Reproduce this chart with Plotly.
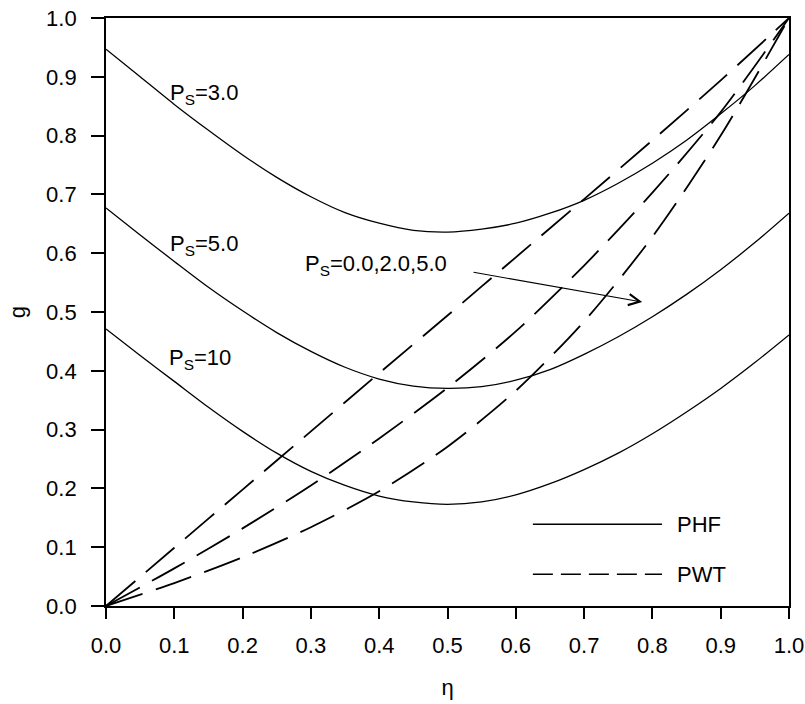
import plotly.graph_objects as go

# Dimensionless position across the channel (fine grid for the PHF profiles)
eta_fine = [0.00, 0.05, 0.10, 0.15, 0.20, 0.25, 0.30, 0.35, 0.40, 0.45, 0.50,
            0.55, 0.60, 0.65, 0.70, 0.75, 0.80, 0.85, 0.90, 0.95, 1.00]

# PHF (prescribed heat flux) profiles
g_phf_ps3 = [0.947, 0.900, 0.853, 0.809, 0.767, 0.729, 0.696, 0.669, 0.651, 0.639, 0.636,
             0.641, 0.651, 0.668, 0.690, 0.719, 0.753, 0.792, 0.837, 0.885, 0.938]
g_phf_ps5 = [0.677, 0.631, 0.586, 0.542, 0.502, 0.465, 0.433, 0.406, 0.386, 0.374, 0.370,
             0.373, 0.384, 0.402, 0.428, 0.458, 0.492, 0.530, 0.572, 0.618, 0.668]
g_phf_ps10 = [0.471, 0.426, 0.382, 0.338, 0.297, 0.260, 0.229, 0.205, 0.187, 0.177, 0.173,
              0.177, 0.189, 0.208, 0.232, 0.260, 0.293, 0.330, 0.370, 0.414, 0.461]

# PWT (prescribed wall temperature) profiles, Ps = 0.0, 2.0, 5.0
eta = [0.0, 0.1, 0.2, 0.3, 0.4, 0.5, 0.6, 0.7, 0.8, 0.9, 1.0]
g_pwt_ps0 = [0.0, 0.099, 0.198, 0.297, 0.396, 0.494, 0.593, 0.692, 0.792, 0.894, 1.0]
g_pwt_ps2 = [0.0, 0.064, 0.132, 0.205, 0.285, 0.371, 0.467, 0.579, 0.703, 0.840, 1.0]
g_pwt_ps5 = [0.0, 0.039, 0.083, 0.134, 0.195, 0.271, 0.366, 0.484, 0.628, 0.800, 1.0]

tick_vals = [0.0, 0.1, 0.2, 0.3, 0.4, 0.5, 0.6, 0.7, 0.8, 0.9, 1.0]
tick_text = ["0.0", "0.1", "0.2", "0.3", "0.4", "0.5", "0.6", "0.7", "0.8", "0.9", "1.0"]

FONT = "Liberation Sans, Arial, sans-serif"
FS = 22
fig = go.Figure()

for g in (g_phf_ps3, g_phf_ps5, g_phf_ps10):
    fig.add_trace(go.Scatter(x=eta_fine, y=g, mode="lines", showlegend=False,
                             line=dict(color="black", width=1.3, shape="spline", smoothing=0.8)))

for g in (g_pwt_ps0, g_pwt_ps2, g_pwt_ps5):
    fig.add_trace(go.Scatter(x=eta, y=g, mode="lines", showlegend=False,
                             line=dict(color="black", width=1.8, dash="38px,14px",
                                       shape="spline", smoothing=0.8)))

# curve labels
labels = [
    ("P<sub>S</sub>=3.0", 0.091, 0.870),
    ("P<sub>S</sub>=5.0", 0.091, 0.614),
    ("P<sub>S</sub>=10", 0.089, 0.420),
    ("P<sub>S</sub>=0.0,2.0,5.0", 0.288, 0.580),
]
for txt, lx, ly in labels:
    fig.add_annotation(x=lx, y=ly, text=txt, showarrow=False, xanchor="left", yanchor="middle",
                       font=dict(family=FONT, size=FS, color="black"))

# arrow pointing along increasing Ps for PWT curves
fig.add_annotation(x=0.785, y=0.517, ax=0.536, ay=0.568, axref="x", ayref="y",
                   xref="x", yref="y", text="", showarrow=True,
                   arrowhead=5, arrowsize=2.0, arrowwidth=1.1, arrowcolor="black")

# key
key = [("PHF", 0.139, "solid"), ("PWT", 0.054, "20px,8px")]
for name, ky, dash in key:
    fig.add_shape(type="line", x0=0.625, x1=0.814, y0=ky, y1=ky, xref="x", yref="y",
                  line=dict(color="black", width=1.6, dash=dash))
    fig.add_annotation(x=0.833, y=ky, text=name, showarrow=False, xanchor="left", yanchor="middle",
                       font=dict(family=FONT, size=FS, color="black"))

fig.update_layout(
    width=805, height=704,
    margin=dict(l=106, r=16, t=18, b=98),
    paper_bgcolor="white", plot_bgcolor="white",
    font=dict(family=FONT, size=FS, color="black"),
    xaxis=dict(range=[0, 1], tickvals=tick_vals, ticktext=tick_text, ticks="outside",
               ticklen=11, tickwidth=1.5, tickcolor="black", showgrid=False, zeroline=False,
               showline=True, linecolor="black", linewidth=1.8, mirror=True,
               ticklabelstandoff=8, automargin=False,
               title=dict(text="η", font=dict(family=FONT, size=FS), standoff=22)),
    yaxis=dict(range=[0, 1], tickvals=tick_vals, ticktext=tick_text, ticks="outside",
               ticklen=13, tickwidth=1.5, tickcolor="black", showgrid=False, zeroline=False,
               showline=True, linecolor="black", linewidth=1.8, mirror=True,
               ticklabelstandoff=10, automargin=False,
               title=dict(text="g", font=dict(family=FONT, size=FS), standoff=14)),
)

fig.write_html("out.html")
